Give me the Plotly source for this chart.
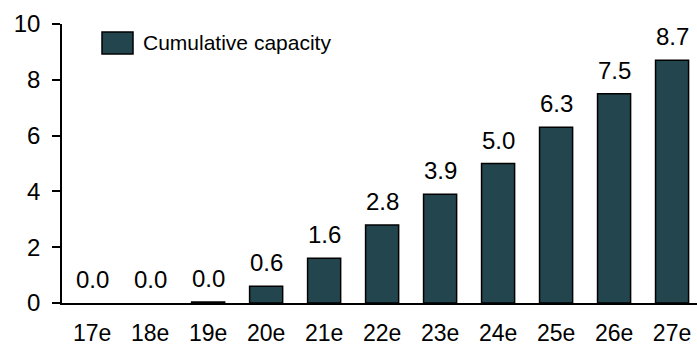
import plotly.graph_objects as go

# Cumulative capacity by year (estimates)
years = ["17e", "18e", "19e", "20e", "21e", "22e", "23e", "24e", "25e", "26e", "27e"]
capacity = [0.0, 0.0, 0.04, 0.6, 1.6, 2.8, 3.9, 5.0, 6.3, 7.5, 8.7]
y_ticks = [0, 2, 4, 6, 8, 10]
series_name = "Cumulative capacity"

BAR_COLOR = "#23464E"
FONT = "Arial, Liberation Sans, sans-serif"

fig = go.Figure()
fig.add_trace(go.Bar(
    x=list(range(len(years))),
    y=capacity,
    width=0.57,
    marker=dict(
        color=BAR_COLOR,
        # zero-height bars get no outline so nothing shows on the axis
        line=dict(color="black", width=[0 if v == 0 else 1.5 for v in capacity]),
    ),
    showlegend=False,
    name=series_name,
))

# value labels above each bar
for i, v in enumerate(capacity):
    fig.add_annotation(
        x=i, y=v, text=f"{v:.1f}", showarrow=False,
        xanchor="center", yanchor="bottom", yshift=8,
        font=dict(family=FONT, size=24, color="black"),
    )

# legend key
fig.add_shape(type="rect", xref="paper", yref="paper",
              x0=(102 - 62) / 635, x1=(133 - 62) / 635,
              y0=(303.5 - 54) / 279.5, y1=(303.5 - 32) / 279.5,
              fillcolor=BAR_COLOR, line=dict(color="black", width=1.5))
fig.add_annotation(xref="paper", yref="paper",
                   x=(141 - 62) / 635, y=(303.5 - 43) / 279.5,
                   text=series_name, showarrow=False,
                   xanchor="left", yanchor="middle",
                   font=dict(family=FONT, size=21, color="black"))

fig.update_layout(
    width=697, height=347,
    margin=dict(l=62, r=0, t=24, b=44),
    plot_bgcolor="white", paper_bgcolor="white",
    font=dict(family=FONT, size=24, color="black"),
    bargap=0.43,
)
fig.update_xaxes(
    range=[-0.52, 10.43], automargin=False,
    tickmode="array", tickvals=list(range(len(years))), ticktext=years,
    showline=True, linecolor="black", linewidth=1.5,
    showgrid=False, zeroline=False, ticks="",
    ticklabelstandoff=9,
    tickfont=dict(family=FONT, size=23),
)
fig.update_yaxes(
    range=[0, 10], tickvals=y_ticks, automargin=False,
    showline=True, linecolor="black", linewidth=1.5,
    showgrid=False, zeroline=False,
    ticks="outside", ticklen=8, tickwidth=1.5, tickcolor="black",
    ticklabelstandoff=7,
    tickfont=dict(family=FONT, size=24),
)

fig.write_html("out.html")
